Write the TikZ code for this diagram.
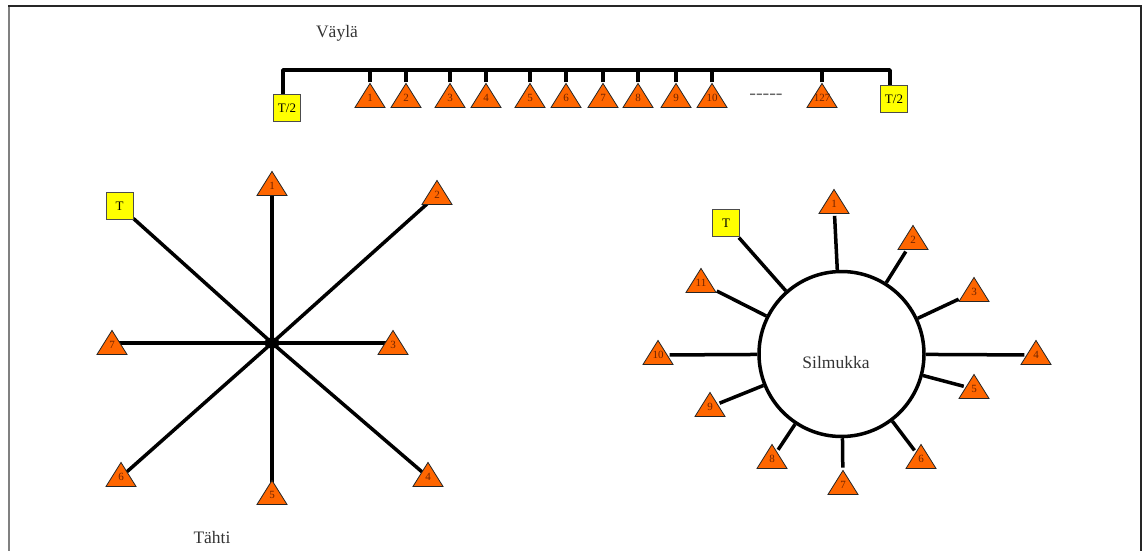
\documentclass[tikz,border=0pt]{standalone}
\usepackage{fontspec}
\setmainfont{Liberation Serif}
\usepackage{xcolor}
\definecolor{netorange}{RGB}{255,102,0}
\definecolor{netyellow}{RGB}{255,255,0}
\definecolor{netnum}{RGB}{110,35,0}
\usepackage{tikz}
\usetikzlibrary{shapes.geometric, backgrounds}

\tikzset{
  station/.style={isosceles triangle, isosceles triangle stretches, shape border rotate=90,
                  draw=black!85, fill=netorange, line width=0.8pt,
                  minimum width=30pt, minimum height=24pt, inner sep=0pt,
                  font=\fontsize{11}{11}\selectfont, text=netnum},
  term/.style={draw=black!70, fill=netyellow, line width=0.8pt, inner sep=0pt,
               minimum width=27pt, minimum height=27pt, font=\fontsize{13}{13}\selectfont},
  cable/.style={line width=3.5pt, line join=round},
  topo/.style={font=\fontsize{17.5}{17.5}\selectfont, text=black!80}
}
% number centred without widening the triangle
\newcommand{\stn}[1]{\makebox[0pt]{#1}}

\begin{document}
\begin{tikzpicture}[x=1pt, y=-1pt]
\useasboundingbox (0,0) rectangle (1143,551);

% frame
\draw[gray, line width=2pt] (9,551) -- (9,6);
\draw[black!85, line width=1.5pt] (8,6) -- (1141,6) -- (1141,551);

% === Bus ===
\node[topo] (vayla) at (337,33) {Väylä};
\node[term] (tl) at (287,108) {T/2};
\node[term] (tr) at (894,99) {T/2};
\coordinate (busl) at (283,70);
\coordinate (busr) at (890,70);
\draw[cable] (busl |- tl.north) -- (busl) -- (busr) -- (busr |- tr.north);
\foreach \n/\x in {1/370,2/406,3/450,4/486,5/530,6/566,7/603,8/638,9/676,10/712,127/822} {
  \node[station] (b\n) at (\x,98) {\stn{\n}};
  \draw[cable] (b\n.apex) -- (b\n.apex |- busl);
}
\node[text=black!60, font=\fontsize{20}{20}\selectfont] (dots) at (766,97) {-{}-{}-{}-{}-};

% === Star ===
\node[topo] (tahti) at (212,538) {Tähti};
\node[ellipse, fill=black, minimum width=15pt, minimum height=11pt, inner sep=0pt] (hub) at (272,343) {};
\node[term] (st) at (119.5,206) {T};
\foreach \n/\x/\y in {1/272/186,2/437/195,3/393/345,4/428/477,5/272/495,6/121/477,7/112/345} {
  \node[station] (s\n) at (\x,\y) {\stn{\n}};
}
\begin{scope}[on background layer]
  \draw[cable] (hub.center) -- (st);
  \foreach \n in {1,2,4,5,6} {
    \draw[cable] (hub.center) -- (s\n.center);
  }
  \draw[cable] (s7 |- hub) -- (s3 |- hub);
\end{scope}

% === Ring ===
\node[circle, draw, line width=3.5pt, minimum size=165pt, inner sep=0pt] (ring) at (841.5,354) {};
\node[topo] (silmukka) at (836,363) {Silmukka};
\node[term] (rt) at (726,223) {T};
\draw[cable, shorten >=1pt] (ring) -- (rt);
\foreach \n/\x/\y in {1/834/204,2/913/240,3/974/292,4/1036/355,5/974/389,6/921/459,
                      7/843/485,8/772/459,9/710/407,10/658/355,11/701/283} {
  \node[station] (r\n) at (\x,\y) {\stn{\n}};
  \draw[cable, shorten >=2pt] (ring) -- (r\n);
}

\end{tikzpicture}
\end{document}
